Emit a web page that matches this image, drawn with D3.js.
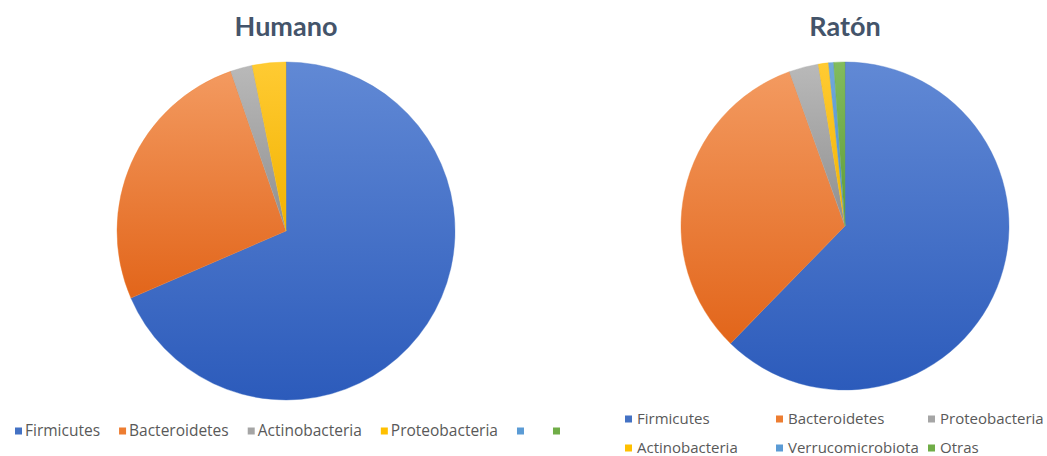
<!DOCTYPE html>
<html lang="es">
<head>
<meta charset="utf-8">
<script src="https://cdn.jsdelivr.net/npm/d3@7"></script>
<style>
  html, body { margin: 0; padding: 0; background: #ffffff; }
  svg { display: block; }
  .title { font-family: Lato, "Open Sans", sans-serif; font-weight: 700; fill: #44546A; }
  .legend text { font-family: "Open Sans", "Noto Sans", sans-serif; fill: #595959; }
</style>
</head>
<body>
<svg id="chart" width="1047" height="456"></svg>
<script>
// Phylum composition of the gut microbiota (%)
const humanTitle = "Humano";
const humanCategories = ["Firmicutes", "Bacteroidetes", "Actinobacteria", "Proteobacteria", "", ""];
const humanValues = [68.5, 26.2, 2.1, 3.2, 0, 0];

const mouseTitle = "Ratón";
const mouseCategories = ["Firmicutes", "Bacteroidetes", "Proteobacteria", "Actinobacteria", "Verrucomicrobiota", "Otras"];
const mouseValues = [62.3, 32.2, 2.9, 1.0, 0.5, 1.1];

// Office-style series colours: [light top, dark bottom, legend swatch]
const palette = [
  ["#6189D5", "#2C5BBB", "#4472C4"],
  ["#F39A60", "#E2651A", "#ED7D31"],
  ["#B9B9B9", "#8F8F8F", "#A5A5A5"],
  ["#FFCB33", "#F2B200", "#FFC000"],
  ["#72A9DC", "#488ACB", "#5B9BD5"],
  ["#82BC5E", "#5E9B38", "#70AD47"]
];

const svg = d3.select("#chart");
const defs = svg.append("defs");

function drawPie(opts) {
  const { id, title, categories, values, cx, cy, r, titleY } = opts;
  const data = categories.map((c, i) => ({ name: c, value: values[i], idx: i }));

  const pie = d3.pie().sort(null).value(d => d.value);
  const arc = d3.arc().innerRadius(0).outerRadius(r);

  // vertical gradient per slice, lighter at the top
  data.forEach(d => {
    const g = defs.append("linearGradient")
      .attr("id", `${id}-grad-${d.idx}`)
      .attr("x1", 0).attr("y1", 0).attr("x2", 0).attr("y2", 1);
    g.append("stop").attr("offset", "0%").attr("stop-color", palette[d.idx][0]);
    g.append("stop").attr("offset", "100%").attr("stop-color", palette[d.idx][1]);
  });

  const g = svg.append("g").attr("transform", `translate(${cx},${cy})`);
  g.selectAll("path")
    .data(pie(data).filter(a => a.data.value > 0))
    .join("path")
    .attr("d", arc)
    .attr("fill", a => `url(#${id}-grad-${a.data.idx})`)
    .attr("stroke", a => palette[a.data.idx][2])
    .attr("stroke-width", 0.4);

  svg.append("text")
    .attr("class", "title")
    .attr("x", cx)
    .attr("y", titleY)
    .attr("text-anchor", "middle")
    .attr("font-size", 27)
    .text(title);

  return data;
}

const humanData = drawPie({
  id: "humano", title: humanTitle, categories: humanCategories, values: humanValues,
  cx: 286, cy: 231, r: 169, titleY: 36
});
const mouseData = drawPie({
  id: "raton", title: mouseTitle, categories: mouseCategories, values: mouseValues,
  cx: 845, cy: 226, r: 164, titleY: 36
});

// Human legend: single row, items flow left to right
const legH = svg.append("g").attr("class", "legend");
let lx = 15;
humanData.forEach(d => {
  const item = legH.append("g").attr("transform", `translate(${lx},431)`);
  item.append("rect").attr("x", 0).attr("y", -3.5).attr("width", 7).attr("height", 7)
    .attr("fill", palette[d.idx][2]);
  const t = item.append("text").attr("x", 10).attr("y", 0).attr("dy", "0.35em")
    .attr("font-size", 15.5).text(d.name);
  const w = d.name ? t.node().getComputedTextLength() : 7;
  lx += 10 + w + 19;
});

// Mouse legend: two rows, three columns
const legM = svg.append("g").attr("class", "legend");
const colX = [625, 776, 928];
const rowY = [419, 448];
mouseData.forEach((d, i) => {
  const item = legM.append("g")
    .attr("transform", `translate(${colX[i % 3]},${rowY[Math.floor(i / 3)]})`);
  item.append("rect").attr("x", 0).attr("y", -3.5).attr("width", 7).attr("height", 7)
    .attr("fill", palette[d.idx][2]);
  item.append("text").attr("x", 12).attr("y", 0).attr("dy", "0.35em")
    .attr("font-size", 15).text(d.name);
});
</script>
</body>
</html>
